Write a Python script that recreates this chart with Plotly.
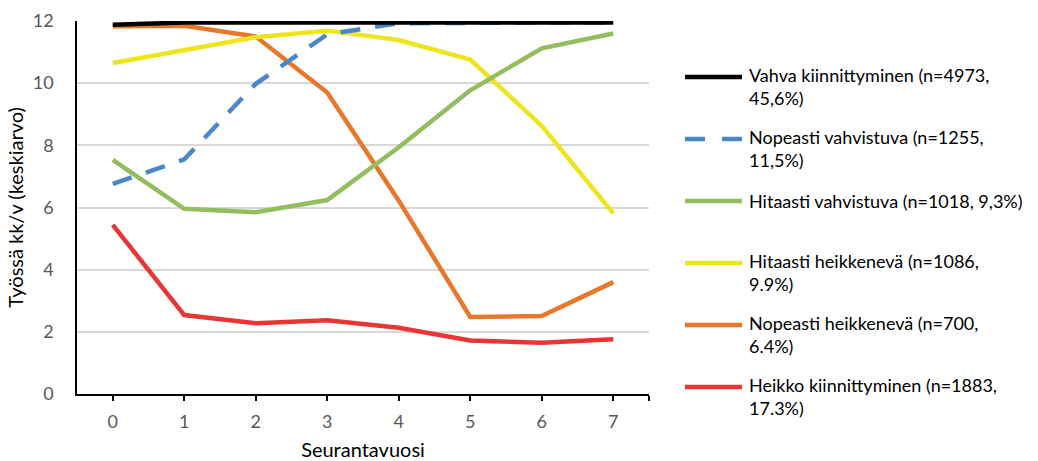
import plotly.graph_objects as go

# Follow-up years and mean months in work per year for each trajectory group
years = [0, 1, 2, 3, 4, 5, 6, 7]
year_labels = ["0", "1", "2", "3", "4", "5", "6", "7"]

vahva = [11.88, 11.95, 11.95, 11.95, 11.95, 11.95, 11.95, 11.95]
nopeasti_vahvistuva = [6.76, 7.55, 9.98, 11.57, 11.93, 11.95, 11.95, 11.95]
hitaasti_vahvistuva = [7.53, 5.96, 5.85, 6.24, 7.94, 9.77, 11.12, 11.6]
hitaasti_heikkeneva = [10.65, 11.08, 11.48, 11.69, 11.39, 10.76, 8.63, 5.81]
nopeasti_heikkeneva = [11.83, 11.85, 11.5, 9.7, 6.22, 2.48, 2.51, 3.6]
heikko = [5.44, 2.54, 2.28, 2.37, 2.13, 1.72, 1.65, 1.76]

# legend labels, one list entry per text line
labels = [
    ["Vahva kiinnittyminen (n=4973,", "45,6%)"],
    ["Nopeasti vahvistuva (n=1255,", "11,5%)"],
    ["Hitaasti vahvistuva (n=1018, 9,3%)"],
    ["Hitaasti heikkenevä (n=1086,", "9.9%)"],
    ["Nopeasti heikkenevä (n=700,", "6.4%)"],
    ["Heikko kiinnittyminen (n=1883,", "17.3%)"],
]
series = [vahva, nopeasti_vahvistuva, hitaasti_vahvistuva,
          hitaasti_heikkeneva, nopeasti_heikkeneva, heikko]
colors = ["#000000", "#4A86C8", "#93BD5E", "#EDE61F", "#E8772B", "#EB3434"]
dashes = ["solid", "20px,15px", "solid", "solid", "solid", "solid"]

W, H = 1038, 461
ML, MR, MT, MB = 77, 389, 21, 67
plot_w = W - ML - MR
plot_h = H - MT - MB


def px_x(px):
    return (px - ML) / plot_w


def px_y(py):
    return (H - MB - py) / plot_h


fig = go.Figure()
# black line drawn last so it sits on top
for i in [5, 4, 3, 2, 1, 0]:
    fig.add_trace(go.Scatter(
        x=years, y=series[i], mode="lines", name=" ".join(labels[i]),
        line=dict(color=colors[i], width=4.5, dash=dashes[i]),
        showlegend=False,
    ))

# legend at the right: a sample line and a (wrapped) label per group
entry_top = 77
entry_step = 62
line_step = 18
for i, lines in enumerate(labels):
    yc = entry_top + i * entry_step
    fig.add_shape(
        type="line", xref="paper", yref="paper",
        x0=px_x(685), x1=px_x(742), y0=px_y(yc), y1=px_y(yc),
        line=dict(color=colors[i], width=4.5,
                  dash="20px,17px" if dashes[i] != "solid" else "solid"),
    )
    y_mid = yc + (len(lines) - 1) * line_step / 2
    fig.add_annotation(
        text="<br>".join(lines), xref="paper", yref="paper",
        x=px_x(747), y=px_y(y_mid), align="left",
        xanchor="left", yanchor="middle", showarrow=False,
        font=dict(family="Lato", size=18, color="#000000"),
    )

fig.update_layout(
    width=W, height=H,
    margin=dict(l=ML, r=MR, t=MT, b=MB),
    plot_bgcolor="white", paper_bgcolor="white",
    font=dict(family="Lato", size=18, color="#000000"),
    showlegend=False,
    xaxis=dict(
        range=[-0.5, 7.5], automargin=False,
        tickmode="array", tickvals=years + [7.5], ticktext=year_labels + [""],
        ticks="outside", ticklen=5, tickcolor="#000000", tickwidth=1.5,
        showline=True, linecolor="#000000", linewidth=1.5,
        showgrid=False, zeroline=False,
        tickfont=dict(family="Lato", size=18, color="#595959"),
        ticklabelstandoff=6,
        title=dict(text="Seurantavuosi", font=dict(family="Lato", size=20, color="#000000"), standoff=14),
    ),
    yaxis=dict(
        range=[0, 12], tickvals=[0, 2, 4, 6, 8, 10, 12], automargin=False,
        showline=True, linecolor="#000000", linewidth=1.5,
        showgrid=True, gridcolor="#D9D9D9", gridwidth=1.5,
        zeroline=False, ticks="",
        tickfont=dict(family="Lato", size=18, color="#595959"),
        ticklabelstandoff=18,
        title=dict(text="Työssä kk/v (keskiarvo)", font=dict(family="Lato", size=20, color="#000000"), standoff=4),
    ),
)

fig.write_html("out.html")
